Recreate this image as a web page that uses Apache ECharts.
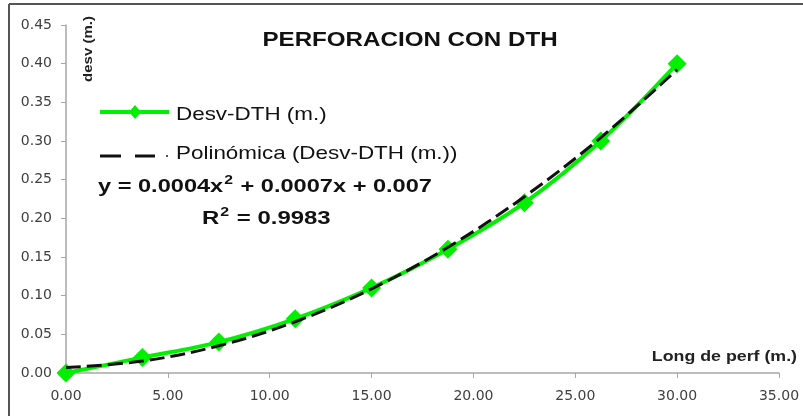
<!DOCTYPE html>
<html>
<head>
<meta charset="utf-8">
<script src="https://cdn.jsdelivr.net/npm/echarts@6/dist/echarts.min.js"></script>
<style>
  html, body { margin: 0; padding: 0; background: #ffffff; }
  #chart { width: 803px; height: 416px; }
</style>
</head>
<body>
<div id="chart"></div>
<script>
// Drilling length (m) and measured deviation (m)
const longPerf = [0, 3.75, 7.5, 11.25, 15, 18.75, 22.5, 26.25, 30];
const desvDTH = [0, 0.02, 0.04, 0.07, 0.11, 0.16, 0.22, 0.30, 0.40];
// Second-order polynomial trend values at the same lengths
const trendDTH = [0.007, 0.0154, 0.0352, 0.0663, 0.1088, 0.1626, 0.2279, 0.3044, 0.3924];

const xTicks = { min: 0, max: 35, interval: 5 };
const yTicks = { min: 0, max: 0.45, interval: 0.05 };

const seriesNames = ['Desv-DTH (m.)', 'Polinómica (Desv-DTH (m.))'];
const titleText = 'PERFORACION CON DTH';
// [text, isSuperscript]
const equationParts = [['y = 0.0004x', false], ['2', true], [' + 0.0007x + 0.007', false]];
const r2Parts = [['R', false], ['2', true], [' = 0.9983', false]];

const FONT = '"Liberation Sans", Arial, sans-serif';
const LABEL_FONT = '"DejaVu Sans", sans-serif';
const GREEN = '#00f000';
const INK = '#111111';

const chart = echarts.init(document.getElementById('chart'), null, { renderer: 'canvas' });

const pairs = (xs, ys) => xs.map((x, i) => [x, ys[i]]);

// Text measuring for laying out superscripts inline
const measureCtx = document.createElement('canvas').getContext('2d');
function textWidth(str, size) {
  measureCtx.font = 'bold ' + size + 'px ' + FONT;
  return measureCtx.measureText(str).width;
}

// Lay out a run of bold text with raised superscripts, stretched horizontally by sx
function formulaRun(parts, x0, yMid, sx) {
  const out = [];
  let x = x0;
  parts.forEach(([str, sup]) => {
    const size = sup ? 12 : 18;
    out.push({
      type: 'text', x: x + (sup ? 1 : 0), y: sup ? yMid - 6 : yMid, scaleX: sx,
      style: { text: str, fontFamily: FONT, fontSize: size, fontWeight: 'bold', fill: INK,
               align: 'left', verticalAlign: 'middle' }
    });
    x += textWidth(str, size) * sx + (sup ? 2 : 0);
  });
  return out;
}

chart.setOption({
  backgroundColor: '#ffffff',
  animation: false,
  grid: { left: 66, right: 24, top: 25, bottom: 43, containLabel: false },
  xAxis: {
    type: 'value',
    min: xTicks.min, max: xTicks.max, interval: xTicks.interval,
    axisLine: { lineStyle: { color: '#a6a6a6', width: 1.5 } },
    axisTick: { show: true, length: 5, lineStyle: { color: '#a6a6a6' } },
    splitLine: { show: false },
    axisLabel: { fontFamily: LABEL_FONT, fontSize: 14, color: '#404040', margin: 16,
                 formatter: v => v.toFixed(2) }
  },
  yAxis: {
    type: 'value',
    min: yTicks.min, max: yTicks.max, interval: yTicks.interval,
    axisLine: { show: true, lineStyle: { color: '#a6a6a6', width: 1.5 } },
    axisTick: { show: true, length: 5, lineStyle: { color: '#a6a6a6' } },
    splitLine: { show: false },
    axisLabel: { fontFamily: LABEL_FONT, fontSize: 14, color: '#404040', margin: 14,
                 formatter: v => v.toFixed(2) }
  },
  series: [
    {
      name: seriesNames[0],
      type: 'line',
      data: pairs(longPerf, desvDTH),
      smooth: 0.35,
      symbol: 'diamond',
      symbolSize: [19, 19],
      itemStyle: { color: GREEN },
      lineStyle: { color: GREEN, width: 4 },
      z: 2
    },
    {
      name: seriesNames[1],
      type: 'line',
      data: pairs(longPerf, trendDTH),
      smooth: 0.35,
      showSymbol: false,
      symbol: 'none',
      itemStyle: { color: INK },
      lineStyle: { color: INK, width: 3, type: [15, 6] },
      z: 3
    }
  ],
  graphic: [
    // outer frame
    { type: 'line', shape: { x1: 9, y1: 4, x2: 803, y2: 4 }, style: { stroke: '#555555', lineWidth: 2 } },
    { type: 'line', shape: { x1: 9, y1: 4, x2: 9, y2: 416 }, style: { stroke: '#555555', lineWidth: 2 } },
    // title
    {
      type: 'text', x: 410, y: 40, scaleX: 1.15,
      style: { text: titleText, fontFamily: FONT, fontSize: 21, fontWeight: 'bold', fill: INK,
               align: 'center', verticalAlign: 'middle' }
    },
    // legend: measured series
    { type: 'line', shape: { x1: 100, y1: 112, x2: 169, y2: 112 }, style: { stroke: GREEN, lineWidth: 4 } },
    { type: 'polygon', shape: { points: [[135, 105], [141, 112], [135, 119], [129, 112]] }, style: { fill: GREEN } },
    {
      type: 'text', x: 176, y: 115, scaleX: 1.18,
      style: { text: seriesNames[0], fontFamily: FONT, fontSize: 19, fill: INK, align: 'left', verticalAlign: 'middle' }
    },
    // legend: polynomial trend
    { type: 'line', shape: { x1: 100, y1: 156, x2: 121, y2: 156 }, style: { stroke: INK, lineWidth: 3 } },
    { type: 'line', shape: { x1: 135, y1: 156, x2: 155, y2: 156 }, style: { stroke: INK, lineWidth: 3 } },
    { type: 'line', shape: { x1: 166, y1: 156, x2: 168, y2: 156 }, style: { stroke: '#555555', lineWidth: 2 } },
    {
      type: 'text', x: 176, y: 154, scaleX: 1.18,
      style: { text: seriesNames[1], fontFamily: FONT, fontSize: 19, fill: INK, align: 'left', verticalAlign: 'middle' }
    },
    // axis titles
    {
      type: 'text', x: 88.5, y: 49, rotation: Math.PI / 2, scaleX: 1.25,
      style: { text: 'desv (m.)', fontFamily: FONT, fontSize: 12, fontWeight: 'bold', fill: '#222222',
               align: 'center', verticalAlign: 'middle' }
    },
    {
      type: 'text', x: 797, y: 357, scaleX: 1.27,
      style: { text: 'Long de perf (m.)', fontFamily: FONT, fontSize: 14, fontWeight: 'bold', fill: '#222222',
               align: 'right', verticalAlign: 'middle' }
    }
  ]
    // trend equation and coefficient of determination
    .concat(formulaRun(equationParts, 98, 187, 1.31))
    .concat(formulaRun(r2Parts, 202, 219, 1.33))
});
</script>
</body>
</html>
